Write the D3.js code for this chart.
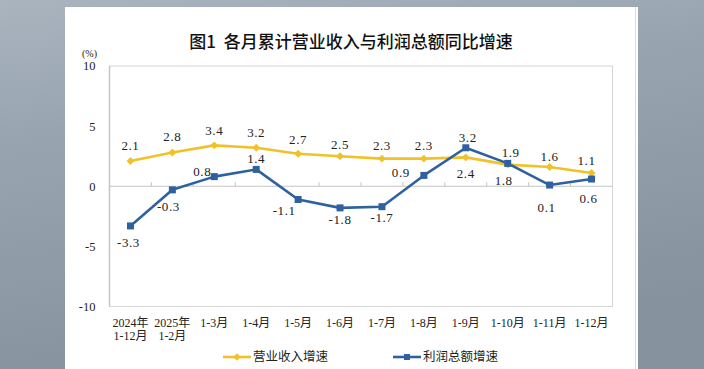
<!DOCTYPE html>
<html>
<head>
<meta charset="utf-8">
<script src="https://cdn.jsdelivr.net/npm/d3@7"></script>
<style>
  body { margin: 0; }
  svg { display: block; }
</style>
</head>
<body>
<svg id="chart"></svg>
<script>
// ---- DATA ---- //
const periods = [["2024年", "1-12月"], ["2025年", "1-2月"], ["1-3月"], ["1-4月"], ["1-5月"], ["1-6月"],
  ["1-7月"], ["1-8月"], ["1-9月"], ["1-10月"], ["1-11月"], ["1-12月"]];
const revenueGrowth = [2.1, 2.8, 3.4, 3.2, 2.7, 2.5, 2.3, 2.3, 2.4, 1.8, 1.6, 1.1];
const profitGrowth = [-3.3, -0.3, 0.8, 1.4, -1.1, -1.8, -1.7, 0.9, 3.2, 1.9, 0.1, 0.6];
const yTicks = [10, 5, 0, -5, -10];
const seriesNames = ["营业收入增速", "利润总额增速"];

// label placement (style only): [dx, dy] from the point
const revenueLabelPos = [[0, -16], [0, -16], [0, -15], [0, -15], [0, -14], [0, -12], [0, -13], [0, -13],
  [0, 16], [-4, 16], [0, -11], [-5, -13]];
const profitLabelPos = [[-2, 17], [-4, 17], [-12, -5], [0, -11], [-14, 11], [0, 12], [0, 11], [-23, -3],
  [2, -10], [3, -11], [-3, 22], [-3, 19]];

// ---- LAYOUT ---- //
const W = 704, H = 369;
const margin = {top: 66, right: 704 - 612.5, bottom: 369 - 306.5, left: 109.5};
const width = W - margin.left - margin.right,
  height = H - margin.top - margin.bottom;

const svg = d3.select("#chart")
  .attr("width", W)
  .attr("height", H);

// blurred photo background
const defs = svg.append("defs");
const bg = defs.append("linearGradient").attr("id", "bg")
  .attr("x1", 0).attr("y1", 0).attr("x2", 0.3).attr("y2", 1);
bg.append("stop").attr("offset", "0%").attr("stop-color", "#a9b4bf");
bg.append("stop").attr("offset", "35%").attr("stop-color", "#98a4b0");
bg.append("stop").attr("offset", "100%").attr("stop-color", "#86929e");
svg.append("rect").attr("width", W).attr("height", H).attr("fill", "url(#bg)");

// white sheet
svg.append("rect")
  .attr("x", 65).attr("y", 7).attr("width", 573).attr("height", H - 7)
  .attr("fill", "#ffffff");
svg.append("line")
  .attr("x1", 635.5).attr("x2", 635.5).attr("y1", 7).attr("y2", H)
  .attr("stroke", "#dcdcdc");

// title
svg.append("text")
  .attr("x", 351).attr("y", 48)
  .attr("text-anchor", "middle")
  .style("font-family", "'Noto Sans CJK SC', sans-serif")
  .style("font-size", "17px")
  .style("font-weight", 500)
  .style("white-space", "pre")
  .attr("fill", "#111")
  .text("图1\u00a0\u00a0各月累计营业收入与利润总额同比增速");

const g = svg.append("g")
  .attr("transform", "translate(" + margin.left + "," + margin.top + ")");

// scales
const xScale = d3.scaleBand()
  .domain(d3.range(periods.length))
  .range([0, width]);
const yScale = d3.scaleLinear()
  .domain([-10, 10])
  .range([height, 0]);
const cx = i => xScale(i) + xScale.bandwidth() / 2;

// plot border
g.append("rect")
  .attr("width", width).attr("height", height)
  .attr("fill", "none")
  .attr("stroke", "#d6d6d6");
g.append("line")
  .attr("x1", 0).attr("x2", 0).attr("y1", 0).attr("y2", height)
  .attr("stroke", "#c4c4c4").attr("stroke-width", 1.5);

// y axis labels
const serif = "'Liberation Serif', 'Times New Roman', 'Noto Sans CJK SC', serif";
g.selectAll(".ylab")
  .data(yTicks)
  .enter().append("text")
    .attr("x", -14)
    .attr("y", d => yScale(d))
    .attr("dy", "0.35em")
    .attr("text-anchor", "end")
    .style("font-family", serif)
    .style("font-size", "12.5px")
    .attr("fill", "#222")
    .text(d => d);
g.append("text")
  .attr("x", -20).attr("y", -9)
  .attr("text-anchor", "middle")
  .style("font-family", serif)
  .style("font-size", "10px")
  .attr("fill", "#222")
  .text("(%)");

// zero line with ticks
g.append("line")
  .attr("x1", 0).attr("x2", width)
  .attr("y1", yScale(0)).attr("y2", yScale(0))
  .attr("stroke", "#c4c4c4").attr("stroke-width", 1.2);
g.selectAll(".tick0")
  .data(d3.range(1, periods.length))
  .enter().append("line")
    .attr("x1", i => xScale(i)).attr("x2", i => xScale(i))
    .attr("y1", yScale(0)).attr("y2", yScale(0) - 4)
    .attr("stroke", "#c4c4c4");

// x labels
const xlab = g.selectAll(".xlab")
  .data(periods)
  .enter().append("text")
    .attr("x", (d, i) => cx(i))
    .attr("y", height + 20)
    .attr("text-anchor", "middle")
    .style("font-family", serif)
    .style("font-size", "12px")
    .attr("fill", "#222");
xlab.selectAll("tspan")
  .data(d => d)
  .enter().append("tspan")
    .attr("x", function() { return this.parentNode.getAttribute("x"); })
    .attr("dy", (d, j) => j === 0 ? 0 : 13)
    .text(d => d);

// lines
const colors = ["#f0c228", "#2f619f"];
const lineGen = d3.line()
  .x((d, i) => cx(i))
  .y(d => yScale(d));

[revenueGrowth, profitGrowth].forEach((vals, s) => {
  g.append("path")
    .datum(vals)
    .attr("fill", "none")
    .attr("stroke", colors[s])
    .attr("stroke-width", 2.6)
    .attr("stroke-linejoin", "round")
    .attr("d", lineGen);
});

// markers
g.selectAll(".diamond")
  .data(revenueGrowth)
  .enter().append("path")
    .attr("d", d3.symbol(d3.symbolDiamond2, 40))
    .attr("transform", (d, i) => "translate(" + cx(i) + "," + yScale(d) + ")")
    .attr("fill", colors[0]);
g.selectAll(".square")
  .data(profitGrowth)
  .enter().append("rect")
    .attr("x", (d, i) => cx(i) - 3.5)
    .attr("y", d => yScale(d) - 3.5)
    .attr("width", 7).attr("height", 7)
    .attr("fill", colors[1]);

// value labels
function addLabels(vals, pos) {
  g.selectAll(null)
    .data(vals)
    .enter().append("text")
      .attr("x", (d, i) => cx(i) + pos[i][0])
      .attr("y", (d, i) => yScale(d) + pos[i][1])
      .attr("dy", "0.35em")
      .attr("text-anchor", "middle")
      .style("font-family", serif)
      .style("font-size", "13px")
      .style("letter-spacing", "0.6px")
      .attr("fill", "#222")
      .text(d => d.toFixed(1));
}
addLabels(revenueGrowth, revenueLabelPos);
addLabels(profitGrowth, profitLabelPos);

// legend
const legendX = [223, 393];
seriesNames.forEach((name, s) => {
  const lg = svg.append("g").attr("transform", "translate(" + legendX[s] + ",357)");
  lg.append("line")
    .attr("x1", 0).attr("x2", 28)
    .attr("stroke", colors[s]).attr("stroke-width", 2.6);
  if (s === 0) {
    lg.append("path").attr("d", d3.symbol(d3.symbolDiamond2, 34))
      .attr("transform", "translate(14,0)").attr("fill", colors[s]);
  } else {
    lg.append("rect").attr("x", 11).attr("y", -3).attr("width", 6).attr("height", 6)
      .attr("fill", colors[s]);
  }
  lg.append("text")
    .attr("x", 30).attr("dy", "0.35em")
    .style("font-family", "'Noto Sans CJK SC', serif")
    .style("font-size", "12.5px")
    .attr("fill", "#222")
    .text(name);
});
</script>
</body>
</html>
